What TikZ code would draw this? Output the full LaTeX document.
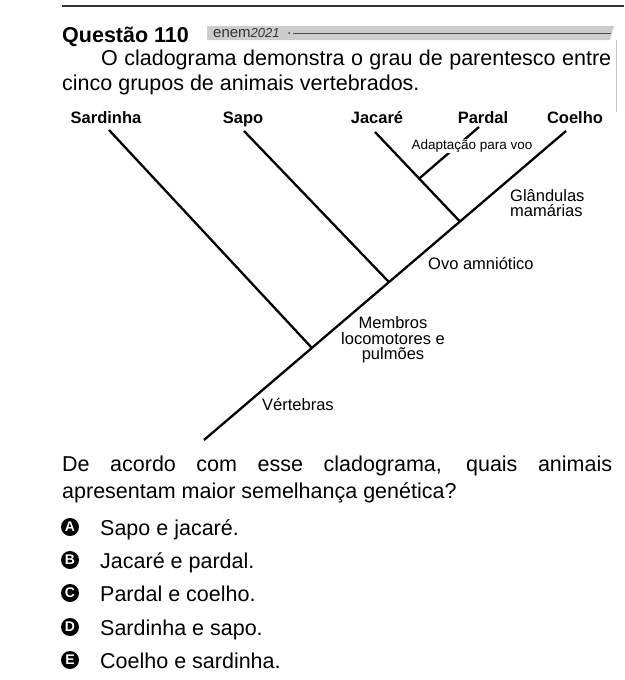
\documentclass[tikz,border=0pt]{standalone}
\usepackage{fontspec}
\setmainfont{Liberation Sans}
\usetikzlibrary{positioning}
\usetikzlibrary{calc}

\newcommand{\bodysize}{\fontsize{21.5}{24.5}\selectfont}
\newcommand{\taxsize}{\fontsize{16.5}{18}\selectfont\bfseries}
\newcommand{\labsize}{\fontsize{16.5}{15.5}\selectfont}

\begin{document}
\begin{tikzpicture}[
  x=1pt, y=-1pt,
  branch/.style = {line width=2.3pt},
  taxon/.style  = {font=\taxsize, inner sep=0pt, anchor=base},
  trait/.style  = {font=\labsize, inner sep=0pt},
  body/.style   = {font=\bodysize, inner sep=0pt, anchor=base west},
  letter/.style = {circle, fill=black, text=white, inner sep=0pt,
                   minimum size=18pt, font=\fontsize{14}{14}\selectfont\bfseries}
]
  \useasboundingbox (0,0) rectangle (624,680);

  % header
  \draw[line width=2.6pt, black!80] (62,6) -- (624,6);
  \node[body, font=\bodysize\bfseries] (title) at (62,42) {Questão 110};
  \fill[gray!40] (207,26) -- (614,26) -- (610,40) -- (207,40) -- cycle;
  \node[anchor=west, inner sep=0pt, text=black!80,
        font=\fontsize{15}{15}\selectfont] (enem) at (213,33)
        {enem\textit{\fontsize{13}{13}\selectfont 2021}};
  \coordinate (barL) at (293,33);
  \coordinate (barR) at (611,33);
  \fill[black!70] (289,33) circle (1pt);
  \draw[black!70, line width=0.9pt] (barL) -- (barR);
  \draw[gray!45, line width=1pt] (616,40) -- (616,112);

  \node[body] (intro1) at (101,65)
    {\makebox[510pt][s]{O cladograma demonstra o grau de parentesco entre}};
  \node[body] (intro2) at (62,90) {cinco grupos de animais vertebrados.};

  % cladogram
  \coordinate (root)   at (204,440);
  \coordinate (tipSar) at (109,130);
  \coordinate (tipSap) at (244,131);
  \coordinate (tipJac) at (375,132);
  \coordinate (tipPar) at (479,127);
  \coordinate (tipCoe) at (566,131);
  \coordinate (jSar) at ($(root)!0.298!(tipCoe)$);
  \coordinate (jSap) at ($(root)!0.511!(tipCoe)$);
  \coordinate (jJac) at ($(root)!0.707!(tipCoe)$);
  \coordinate (jPar) at ($(tipJac)!0.52!(jJac)$);

  \draw[branch] (root) -- (tipCoe);
  \draw[branch] (tipSar) -- (jSar);
  \draw[branch] (tipSap) -- (jSap);
  \draw[branch] (tipJac) -- (jJac);
  \draw[branch] (jPar) -- (tipPar);

  \node[taxon] (sardinha) at (106,123) {Sardinha};
  \node[taxon] (sapo)     at (243,123) {Sapo};
  \node[taxon] (jacare)   at (377,123) {Jacaré};
  \node[taxon] (pardal)   at (483,123) {Pardal};
  \node[taxon] (coelho)   at (575,123) {Coelho};

  \node[trait, fill=white, inner sep=1pt, font=\fontsize{13.5}{14}\selectfont]
    (voo) at (472,146) {Adaptação para voo};
  \node[trait, anchor=west, align=left] (mama) at (510,203) {Glândulas\\mamárias};
  \node[trait, anchor=base west] (ovo) at (428,269) {Ovo amniótico};
  \node[trait, align=center] (membros) at (393,340) {Membros\\locomotores e\\pulmões};
  \node[trait, anchor=base west] (vert) at (262,410) {Vértebras};

  % question
  \node[body] (quest1) at (62,471)
    {\makebox[550pt][s]{De acordo com esse cladograma, quais animais}};
  \node[body] (quest2) at (62,498) {apresentam maior semelhança genética?};

  \node[letter] (optA) at (70,527) {A};
  \node[body]   (ansA) at (100,535) {Sapo e jacaré.};
  \node[letter] (optB) at (70,560) {B};
  \node[body]   (ansB) at (100,568) {Jacaré e pardal.};
  \node[letter] (optC) at (70,593) {C};
  \node[body]   (ansC) at (100,601) {Pardal e coelho.};
  \node[letter] (optD) at (70,627) {D};
  \node[body]   (ansD) at (100,635) {Sardinha e sapo.};
  \node[letter] (optE) at (70,660) {E};
  \node[body]   (ansE) at (100,668) {Coelho e sardinha.};

\end{tikzpicture}
\end{document}
